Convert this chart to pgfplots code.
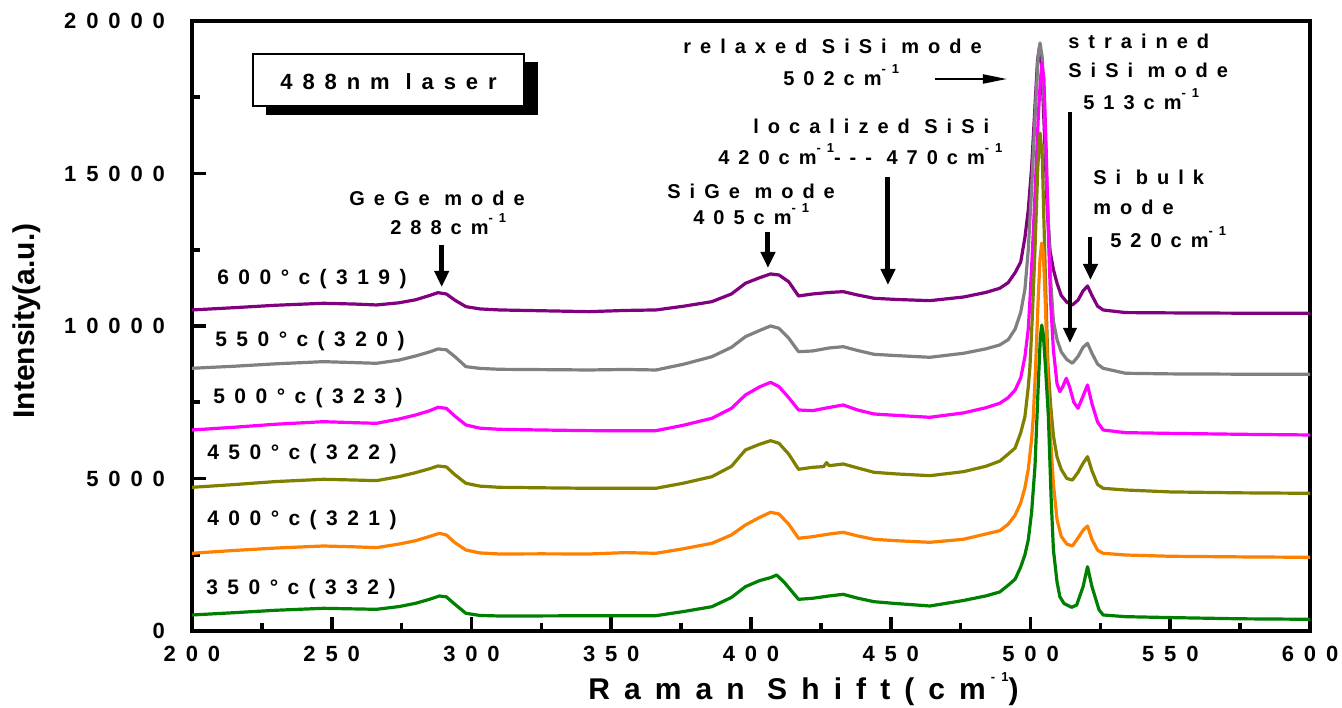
\documentclass[border=0pt]{standalone}
\usepackage{fontspec}
\setmainfont{Liberation Sans}
\usepackage{pgfplots}
\pgfplotsset{compat=1.18}
\usetikzlibrary{arrows.meta}

% spaced-out bold lettering used throughout the figure
\newfontfamily\spacedA{Liberation Sans}[LetterSpace=45]
\newfontfamily\spacedB{Liberation Sans}[LetterSpace=47]
\newcommand\tickfont{\fontsize{11bp}{13bp}\selectfont\spacedA\bfseries}
\newcommand\labfont{\fontsize{10.5bp}{12bp}\selectfont\spacedA\bfseries}
\newcommand\annfont{\fontsize{10bp}{12bp}\selectfont\spacedA\bfseries}
\newcommand\xlabfont{\fontsize{15bp}{18bp}\selectfont\spacedB\bfseries}
\newcommand\sups[1]{\raisebox{0.6em}{\fontsize{6.5bp}{7bp}\selectfont\bfseries #1}}

\definecolor{cPurple}{HTML}{800080}
\definecolor{cGrey}{HTML}{808080}
\definecolor{cMagenta}{HTML}{FF00FF}
\definecolor{cOlive}{HTML}{808000}
\definecolor{cOrange}{HTML}{FF8000}
\definecolor{cGreen}{HTML}{008000}

\begin{document}
\begin{tikzpicture}
\begin{axis}[
  at={(0,0)}, anchor=south west,
  scale only axis, width=559bp, height=305bp,
  xmin=200, xmax=600, ymin=0, ymax=20000,
  axis line style={line width=2bp},
  tick align=inside, xtick pos=bottom, ytick pos=left,
  xtick={200,250,...,600}, ytick={0,5000,...,20000},
  minor x tick num=1, minor y tick num=1,
  major tick length=7bp, minor tick length=4bp,
  tick style={black, line width=1.8bp},
  scaled y ticks=false,
  /pgf/number format/assume math mode=true,
  /pgf/number format/1000 sep={},
  ticklabel style={font=\tickfont},
  yticklabel style={xshift=-10bp},
  xticklabel style={yshift=-4bp},
  every axis plot/.append style={line width=1.6bp, line join=round},
  clip=true,
]
% 600 C (319)
\addplot[cPurple] coordinates {
(200,10526) (215,10600) (230,10680) (247,10745) (258,10720) (266,10690) (274,10760) (280,10860) (285,11000) (288,11093) (291,11050) (294,10850) (298,10635) (303,10560) (310,10526) (325,10500) (342,10470) (355,10510) (366,10526) (376,10650) (386,10798) (393,11050) (398,11400) (403,11580) (407,11706) (410,11673) (413.5,11450) (417,10985) (422,11050) (428,11100) (433,11126) (438,11020) (444,10909) (452,10870) (464,10831) (476,10950) (484,11100) (489,11237) (492,11420) (494.5,11750) (496.5,12100) (498,12900) (499.2,13800) (500.4,15200) (501.6,17200) (502.5,18700) (503.2,19150) (504,18500) (505,16300) (506,13800) (507,12450) (508.2,11850) (509.5,11400) (511,11000) (513,10780) (515,10690) (517,10850) (518.8,11150) (520.4,11313) (522,11000) (524,10650) (526,10525) (534,10440) (550,10430) (575,10420) (600,10418)
};
% 550 C (320)
\addplot[cGrey] coordinates {
(200,8614) (215,8680) (230,8760) (247,8831) (258,8800) (266,8777) (274,8880) (280,9017) (285,9150) (288,9247) (291,9220) (294,9000) (298,8667) (303,8610) (310,8580) (325,8570) (342,8558) (355,8575) (366,8558) (376,8750) (386,8994) (393,9300) (398,9650) (403,9850) (407,10001) (410,9925) (413.5,9600) (417,9158) (422,9181) (428,9280) (433,9322) (438,9200) (444,9072) (452,9030) (464,8974) (476,9105) (484,9250) (489,9378) (492,9550) (494.5,9900) (496.5,10450) (498,11200) (499.2,12500) (500.4,14500) (501.6,16800) (502.7,18800) (503.4,19280) (504.2,18800) (505.2,16500) (506.2,13800) (507.2,11500) (508.2,10150) (509.5,9550) (511,9150) (513,8900) (515,8780) (517,9000) (518.8,9300) (520.4,9433) (522,9100) (524,8750) (526,8613) (534,8450) (550,8430) (575,8420) (600,8417)
};
% 500 C (323)
\addplot[cMagenta] coordinates {
(200,6591) (215,6680) (230,6780) (247,6863) (258,6830) (266,6809) (274,6950) (280,7082) (285,7220) (288,7335) (291,7300) (294,7050) (298,6755) (303,6650) (310,6613) (325,6590) (342,6569) (355,6568) (366,6568) (376,6750) (386,6974) (393,7300) (398,7738) (403,8000) (407,8154) (410,8012) (413.5,7650) (417,7247) (422,7224) (428,7330) (433,7411) (438,7250) (444,7115) (452,7070) (464,7007) (476,7150) (484,7320) (489,7466) (492,7650) (494.5,7900) (496.5,8300) (498,8994) (499.2,9900) (499.8,10853) (500.6,12300) (501.6,14300) (502.8,16900) (503.5,18000) (504.1,18620) (504.8,18100) (505.6,15800) (506.4,13000) (507.2,10800) (508.2,9200) (509.5,8100) (510.5,7847) (511.5,8000) (512.8,8285) (514,8000) (515.5,7500) (517,7302) (518.8,7700) (520.4,8066) (522,7450) (524,6850) (526,6590) (534,6503) (550,6480) (575,6450) (600,6427)
};
% 450 C (322)
\addplot[cOlive] coordinates {
(200,4711) (215,4800) (230,4900) (247,4974) (258,4950) (266,4930) (274,5060) (280,5191) (285,5320) (288,5410) (291,5380) (294,5130) (298,4843) (303,4750) (310,4711) (325,4695) (342,4679) (355,4679) (366,4679) (376,4850) (386,5060) (393,5400) (398,5935) (403,6120) (407,6240) (410,6155) (413.5,5800) (417,5302) (422,5367) (426,5390) (427,5520) (428,5420) (433,5476) (438,5350) (444,5203) (452,5150) (464,5093) (476,5224) (484,5400) (489,5570) (492,5800) (494.5,6000) (496.5,6500) (498,7027) (499.2,8000) (499.8,8667) (500.6,10200) (501.6,12500) (502.6,15200) (503.4,16330) (504.2,15600) (505.2,12000) (506.2,8800) (507.2,7400) (508.2,6400) (509.5,5700) (511,5300) (513,5000) (515,4951) (517,5200) (518.8,5500) (520.4,5716) (522,5250) (524,4800) (526,4678) (534,4623) (550,4560) (575,4530) (600,4515)
};
% 400 C (321)
\addplot[cOrange] coordinates {
(200,2548) (215,2640) (230,2720) (247,2787) (258,2760) (266,2733) (274,2850) (280,2961) (285,3100) (288.5,3203) (291,3150) (294,2900) (298,2656) (303,2560) (310,2525) (325,2530) (342,2525) (355,2570) (366,2548) (376,2700) (386,2875) (393,3150) (398,3476) (403,3720) (407,3892) (410,3837) (413.5,3500) (417,3040) (422,3092) (428,3180) (433,3236) (438,3120) (444,3007) (452,2960) (464,2908) (476,3007) (484,3180) (489,3290) (492,3500) (494.5,3800) (496.5,4200) (498,4700) (499.2,5300) (500.4,6300) (501,7027) (501.8,8600) (502.8,11000) (503.4,12200) (504,12720) (504.6,12400) (505.4,10500) (506.4,7500) (507.4,6000) (508.2,4800) (509.5,3650) (511,3100) (513,2850) (515,2787) (517,3050) (518.8,3300) (520.4,3443) (522,3000) (524,2650) (526,2547) (534,2492) (550,2450) (575,2430) (600,2416)
};
% 350 C (332)
\addplot[cGreen] coordinates {
(200,525) (215,600) (230,680) (247,744) (258,725) (266,711) (274,800) (280,908) (285,1040) (288.5,1148) (291,1120) (294,880) (298,580) (303,510) (310,492) (325,495) (342,500) (355,503) (366,503) (376,640) (386,797) (393,1100) (398,1453) (403,1650) (407,1750) (409.2,1836) (412.2,1564) (417,1039) (422,1072) (428,1150) (433,1203) (438,1080) (444,961) (452,900) (464,820) (476,1000) (484,1150) (489,1280) (492,1500) (494.5,1700) (496.5,2100) (498,2500) (499.2,2984) (500.4,3900) (501.6,5388) (502.8,8122) (503.5,9600) (504,10030) (504.6,9700) (505.4,8600) (506.4,7027) (507.4,4300) (508.2,2656) (509.5,1600) (510.5,1125) (512,900) (514.7,777) (516.5,850) (518.8,1450) (520.4,2108) (522,1450) (524.5,700) (526,525) (534,470) (550,440) (575,400) (600,384)
};
\end{axis}

% annotations, placed on a 0.5bp grid measured from the top-left corner
\begin{scope}[x=0.5bp, y=-0.5bp, shift={(-96bp,315.5bp)}]
  % axis titles
  \node[rotate=90, inner sep=0] at (27,321)
    {\fontsize{15bp}{18bp}\selectfont\bfseries Intensity(a.u.)};
  \node[anchor=base west, inner sep=0] at (588,700)
    {\xlabfont Raman Shift(cm\,\sups{-1})};

  % laser box with drop shadow
  \fill[black] (266,62) rectangle (538,115);
  \draw[fill=white, line width=0.6bp] (253,54) rectangle (524,106);
  \node[anchor=base west, inner sep=0] at (280,89.3) {\fontsize{11bp}{13bp}\selectfont\spacedA\bfseries 488nm laser};

  % sample labels
  \node[anchor=base west, inner sep=0] at (217,285)   {\labfont 600°c(319)};
  \node[anchor=base west, inner sep=0] at (215,346.7) {\labfont 550°c(320)};
  \node[anchor=base west, inner sep=0] at (213,403.3) {\labfont 500°c(323)};
  \node[anchor=base west, inner sep=0] at (207,460)   {\labfont 450°c(322)};
  \node[anchor=base west, inner sep=0] at (207,525.7) {\labfont 400°c(321)};
  \node[anchor=base west, inner sep=0] at (206,594.3) {\labfont 350°c(332)};

  % mode annotations
  \node[anchor=base west, inner sep=0] at (349,205.7) {\annfont GeGe mode};
  \node[anchor=base west, inner sep=0] at (390,235)   {\annfont 288cm\sups{-1}};
  \node[anchor=base west, inner sep=0] at (667,199)   {\annfont SiGe mode};
  \node[anchor=base west, inner sep=0] at (693,225)   {\annfont 405cm\sups{-1}};
  \node[anchor=base west, inner sep=0] at (753,133.3) {\annfont localized SiSi};
  \node[anchor=base west, inner sep=0] at (718,165)   {\annfont 420cm\sups{-1}--- 470cm\sups{-1}};
  \node[anchor=base west, inner sep=0] at (683,53.3)  {\annfont relaxed SiSi mode};
  \node[anchor=base west, inner sep=0] at (783,86)    {\annfont 502cm\sups{-1}};
  \node[anchor=base west, inner sep=0] at (1068,48.3) {\annfont strained};
  \node[anchor=base west, inner sep=0] at (1068,77.3) {\annfont SiSi mode};
  \node[anchor=base west, inner sep=0] at (1083,110)  {\annfont 513cm\sups{-1}};
  \node[anchor=base west, inner sep=0] at (1093,185)  {\annfont Si bulk};
  \node[anchor=base west, inner sep=0] at (1093,215)  {\annfont mode};
  \node[anchor=base west, inner sep=0] at (1110,247.3){\annfont 520cm\sups{-1}};

  % arrows
  \draw[line width=2.5bp, -{Triangle[width=7bp,length=8bp]}] (441.7,245) -- (441.7,287);
  \draw[line width=2.5bp, -{Triangle[width=7bp,length=8bp]}] (768,232) -- (768,268);
  \draw[line width=2.5bp, -{Triangle[width=7bp,length=8bp]}] (888,177) -- (888,285);
  \draw[line width=1.7bp, -{Triangle[width=6.5bp,length=7.5bp]}] (1070,112) -- (1070,343);
  \draw[line width=2bp, -{Triangle[width=7bp,length=8bp]}] (1090.5,237) -- (1090.5,280);
  \draw[line width=1bp, -{Triangle[width=4.5bp,length=12bp]}] (935,79) -- (1007,79);
\end{scope}

\pgfresetboundingbox
\useasboundingbox (-96bp,-38.5bp) rectangle (575bp,315.5bp);
\end{tikzpicture}
\end{document}
